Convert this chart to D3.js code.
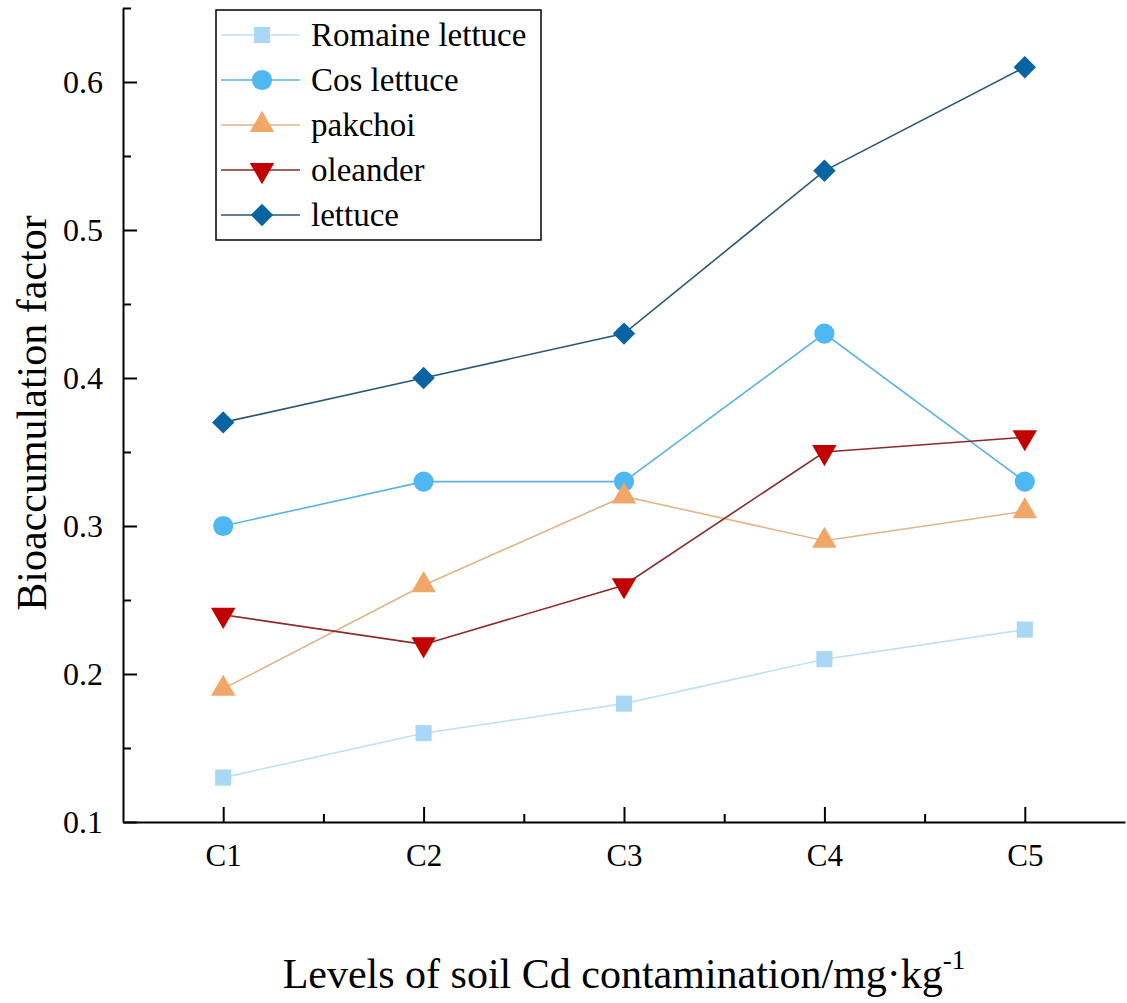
<!DOCTYPE html>
<html>
<head>
    <meta charset="utf-8">
    <title>Bioaccumulation factor</title>
    <script src="https://d3js.org/d3.v7.min.js"></script>
    <style>
        body { margin: 0; background: #fff; }
        text { font-family: "Liberation Serif", "Times New Roman", serif; fill: #000; }
        .axis path, .axis line { stroke: #000; stroke-width: 2px; }
        .line { fill: none; stroke-width: 1.6px; }
    </style>
</head>
<body>
<svg width="1127" height="1003"></svg>
<script>
    // data
    var categories = ["C1", "C2", "C3", "C4", "C5"];
    var seriesNames = ["Romaine lettuce", "Cos lettuce", "pakchoi", "oleander", "lettuce"];
    var romaine = [0.13, 0.16, 0.18, 0.21, 0.23];
    var cos = [0.30, 0.33, 0.33, 0.43, 0.33];
    var pakchoi = [0.19, 0.26, 0.32, 0.29, 0.31];
    var oleander = [0.24, 0.22, 0.26, 0.35, 0.36];
    var lettuce = [0.37, 0.40, 0.43, 0.54, 0.61];
    var yTicks = [0.1, 0.2, 0.3, 0.4, 0.5, 0.6];
    var yMinor = [0.15, 0.25, 0.35, 0.45, 0.55, 0.65];

    var series = [
        {name: seriesNames[0], values: romaine, marker: d3.symbolSquare, size: 260, fill: "#a9d8f6", line: "#bfe1f4"},
        {name: seriesNames[1], values: cos, marker: d3.symbolCircle, size: 320, fill: "#4fb7f2", line: "#5cb4e4"},
        {name: seriesNames[2], values: pakchoi, marker: d3.symbolTriangle, size: 260, fill: "#f0a767", line: "#e3b486", rot: 0},
        {name: seriesNames[3], values: oleander, marker: d3.symbolTriangle, size: 260, fill: "#c20000", line: "#8e2a2a", rot: 180},
        {name: seriesNames[4], values: lettuce, marker: d3.symbolDiamond2, size: 320, fill: "#0a64a3", line: "#2a5878"}
    ];

    var svg = d3.select("svg");
    var plotLeft = 123, plotRight = 1125, plotTop = 8, plotBottom = 822;

    var x = d3.scalePoint().domain(categories).range([plotLeft, plotRight]).padding(0.5);
    var y = d3.scaleLinear().domain([0.1, 0.65]).range([plotBottom, plotTop]);

    // minor ticks
    svg.append("g").attr("class", "axis")
        .attr("transform", "translate(" + plotLeft + ",0)")
        .call(d3.axisLeft(y).tickValues(yMinor).tickSize(-8).tickFormat(""))
        .select(".domain").remove();

    var xMid = d3.pairs(categories).map(function (p) { return (x(p[0]) + x(p[1])) / 2; });
    var xm = d3.scaleLinear().domain([plotLeft, plotRight]).range([plotLeft, plotRight]);
    svg.append("g").attr("class", "axis")
        .attr("transform", "translate(0," + plotBottom + ")")
        .call(d3.axisBottom(xm).tickValues(xMid).tickSize(-8).tickFormat(""))
        .select(".domain").remove();

    // main axes
    var yAxis = svg.append("g").attr("class", "axis")
        .attr("transform", "translate(" + plotLeft + ",0)")
        .call(d3.axisLeft(y).tickValues(yTicks).tickSize(-14).tickSizeOuter(0).tickPadding(20).tickFormat(d3.format(".1f")));
    yAxis.selectAll("text").style("font-size", "32px");

    var xAxis = svg.append("g").attr("class", "axis")
        .attr("transform", "translate(0," + plotBottom + ")")
        .call(d3.axisBottom(x).tickSize(-15).tickSizeOuter(0).tickPadding(22));
    xAxis.selectAll("text").style("font-size", "31px");
    svg.selectAll(".axis").attr("font-family", null);

    // lines and markers
    var line = d3.line()
        .x(function (d, i) { return x(categories[i]); })
        .y(function (d) { return y(d); });

    series.forEach(function (s) {
        svg.append("path").attr("class", "line")
            .attr("stroke", s.line)
            .attr("d", line(s.values));
    });

    series.forEach(function (s) {
        svg.selectAll(null)
            .data(s.values)
            .enter().append("path")
            .attr("d", d3.symbol().type(s.marker).size(s.size))
            .attr("fill", s.fill)
            .attr("transform", function (d, i) {
                return "translate(" + x(categories[i]) + "," + y(d) + ")" + (s.rot ? " rotate(" + s.rot + ")" : "");
            });
    });

    // axis titles
    svg.append("text")
        .attr("transform", "translate(46,413) rotate(-90)")
        .attr("text-anchor", "middle")
        .style("font-size", "42px")
        .text("Bioaccumulation factor");

    var xt = svg.append("text")
        .attr("x", (plotLeft + plotRight) / 2)
        .attr("y", 988)
        .attr("text-anchor", "middle")
        .style("font-size", "42px");
    xt.append("tspan").text("Levels of soil Cd contamination/mg\u00b7kg");
    xt.append("tspan").attr("dy", -19).style("font-size", "27px").text("-1");

    // legend
    var legend = svg.append("g");
    legend.append("rect")
        .attr("x", 216).attr("y", 10)
        .attr("width", 325).attr("height", 230)
        .attr("fill", "#fff").attr("stroke", "#000").attr("stroke-width", 1.5);

    var item = legend.selectAll(".item")
        .data(series)
        .enter().append("g")
        .attr("transform", function (d, i) { return "translate(0," + (35 + i * 45) + ")"; });

    item.append("line")
        .attr("x1", 221).attr("x2", 300)
        .attr("stroke", function (d) { return d.line; })
        .attr("stroke-width", 1.6);
    item.append("path")
        .attr("d", function (d) { return d3.symbol().type(d.marker).size(d.size)(); })
        .attr("fill", function (d) { return d.fill; })
        .attr("transform", function (d) { return "translate(262,0)" + (d.rot ? " rotate(" + d.rot + ")" : ""); });
    item.append("text")
        .attr("x", 311).attr("dy", "0.33em")
        .style("font-size", "33px")
        .text(function (d) { return d.name; });
</script>
</body>
</html>
